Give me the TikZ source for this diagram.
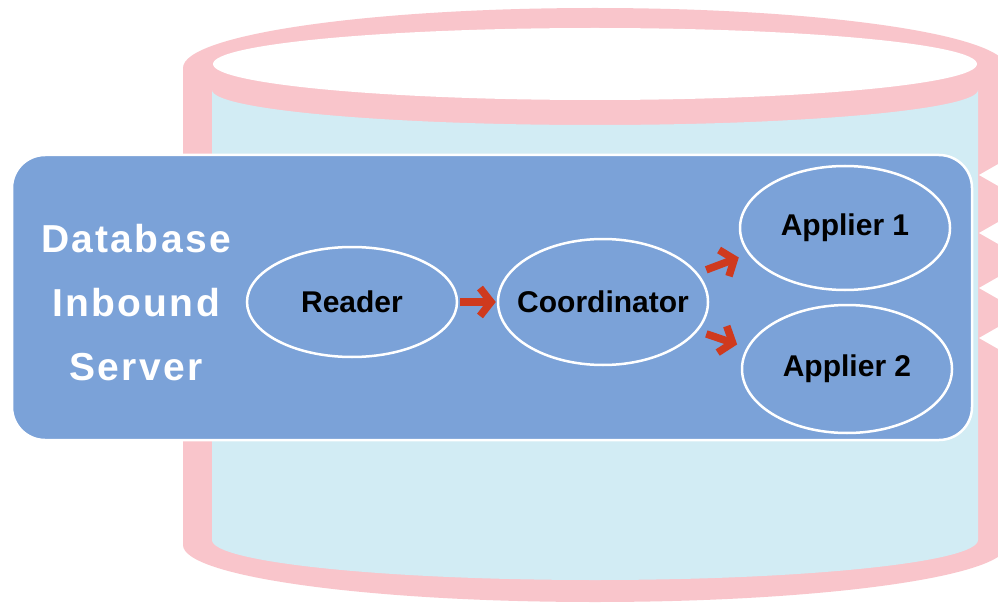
\documentclass[tikz,border=0pt]{standalone}
\usepackage{fontspec}
\setmainfont{Liberation Sans}
\usepackage{xcolor}
\definecolor{cylinderpink}{HTML}{F9C5CB}
\definecolor{cylinderlightblue}{HTML}{D2ECF4}
\definecolor{serverblue}{HTML}{7BA2D8}
\definecolor{flowred}{HTML}{CF3A1E}
\usepackage{tikz}
\usetikzlibrary{%
  arrows.meta,%
  shapes%
  }
\tikzset{
  procnode/.style={ellipse, draw=white, line width=2.5pt, minimum width=210pt,
    inner xsep=-25pt, inner ysep=0pt,
    font=\fontsize{30}{32}\selectfont\bfseries, text=black},
  flow/.style={draw=flowred, line width=7.5pt,
    -{Straight Barb[length=11pt,width=28pt]}}
}

\begin{document}
\begin{tikzpicture}[x=1pt,y=-1pt]
    \useasboundingbox (0,0) rectangle (998,604);
    \fill[white] (0,0) rectangle (998,604);
    % cylinder
    \fill[color=cylinderpink] (183,68) -- (183,545) arc (180:0:412 and 57)
      -- (1007,68) arc (0:-180:412 and 60) -- cycle;
    \fill[color=cylinderlightblue] (212,90) -- (212,540) arc (180:0:383 and 40)
      -- (978,90) arc (0:180:383 and 35) -- cycle;
    \fill[white] (595,64) ellipse (382 and 36);
    % notches on the right wall
    \foreach \ny in {175,233,288,338}
      \fill[white] (1000,\ny-12) -- (979,\ny) -- (1000,\ny+12) -- cycle;
    % server box
    \filldraw[fill=serverblue, draw=white, line width=2.5pt, rounded corners=33pt]
      (12,155) rectangle (972,440);
    \node[align=center, text=white, inner sep=0pt,
      font=\fontsize{39}{64}\selectfont\bfseries\addfontfeatures{LetterSpace=6}]
      (server) at (136,303) {Database\\Inbound\\Server};
    % processes
    \node[procnode, minimum height=110pt] (reader) at (352,302) {Reader};
    \node[procnode, minimum height=126pt] (coord) at (603,302) {Coordinator};
    \node[procnode, minimum height=124pt] (app1) at (845,228) {Applier 1};
    \node[procnode, minimum height=128pt] (app2) at (847,369) {Applier 2};
    \draw[flow, shorten <=2pt, shorten >=1pt] (reader.east) -- (coord.west);
    \draw[flow, shorten <=9pt, shorten >=10pt] (coord.17) -- (app1.195);
    \draw[flow, shorten <=9pt, shorten >=10pt] (coord.-17) -- (app2.168);
    \end{tikzpicture}
\end{document}
